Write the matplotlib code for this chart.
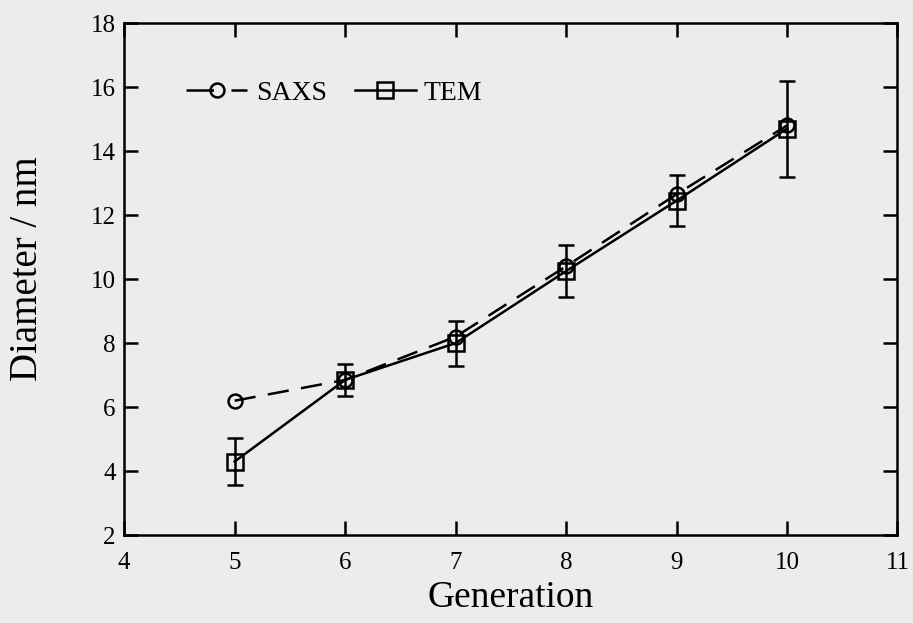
import matplotlib
matplotlib.use("Agg")
import matplotlib.pyplot as plt

# Data
generation = [5, 6, 7, 8, 9, 10]
saxs = [6.2, 6.85, 8.2, 10.4, 12.65, 14.8]
tem = [4.3, 6.85, 8.0, 10.25, 12.45, 14.7]
tem_err = [0.72, 0.5, 0.7, 0.8, 0.8, 1.5]

x_ticks = [4, 5, 6, 7, 8, 9, 10, 11]
y_ticks = [2, 4, 6, 8, 10, 12, 14, 16, 18]

bg = '#ececec'
lw = 1.8
plt.rcParams['font.family'] = ['Liberation Serif', 'DejaVu Serif']

fig = plt.figure(figsize=(9.13, 6.23), dpi=100, facecolor=bg)
ax = fig.add_axes([0.136, 0.141, 0.847, 0.822], facecolor=bg)

ax.plot(generation, saxs, color='black', linestyle=(0, (8.5, 5)), linewidth=lw,
        marker='o', markersize=10, markerfacecolor='none', markeredgewidth=lw,
        label='SAXS')
ax.plot(generation, tem, color='black', linestyle='-', linewidth=lw,
        marker='s', markersize=11, markerfacecolor='none', markeredgewidth=lw,
        label='TEM')
# error bars of TEM
ax.errorbar(generation, tem, yerr=tem_err, fmt='none', ecolor='black',
            elinewidth=lw, capsize=6, capthick=lw)

ax.set_xlim(4, 11)
ax.set_ylim(2, 18)
ax.set_xticks(x_ticks)
ax.set_yticks(y_ticks)
ax.tick_params(direction='in', length=10, width=lw, labelsize=18,
               top=True, right=True)
ax.tick_params(axis='x', pad=12)
ax.tick_params(axis='y', pad=6)
for s in ax.spines.values():
    s.set_linewidth(lw)

ax.set_xlabel('Generation', fontsize=27)
ax.xaxis.set_label_coords(0.5, -0.123)
ax.xaxis.label.set_va('center')
ax.set_ylabel('Diameter / nm', fontsize=28)
ax.yaxis.set_label_coords(-0.125, 0.52)
ax.yaxis.label.set_va('center')

leg = ax.legend(loc='upper left', ncol=2, frameon=False, fontsize=20,
                handlelength=2.2, handletextpad=0.3, columnspacing=1.0,
                borderaxespad=0, bbox_to_anchor=(0.066, 0.91))
# dash - o - dash look of the SAXS legend key
leg.get_lines()[0].set_linestyle((0, (11, 7, 20, 1)))

fig.savefig('out.png', dpi=100, facecolor=bg)
